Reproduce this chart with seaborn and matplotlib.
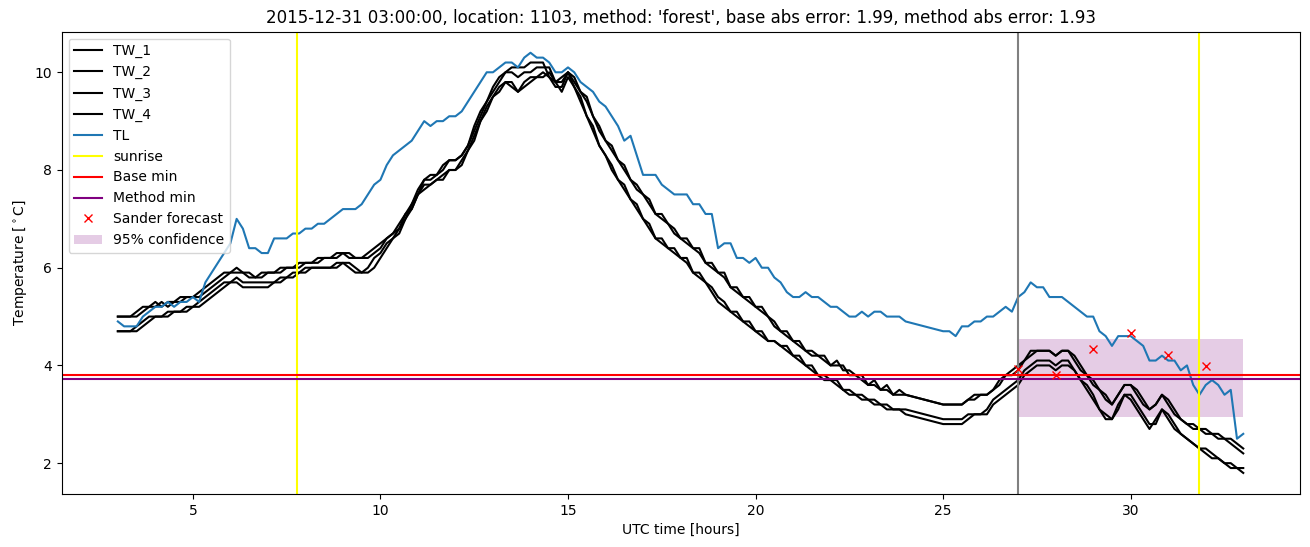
import numpy as np
import pandas as pd
import matplotlib
matplotlib.use("Agg")
import matplotlib.pyplot as plt
import seaborn as sns

# 10-minute samples, 03:00 .. 24:00 and 25:00 .. 33:00 (no data in between)
hours = np.concatenate([np.linspace(3, 24, 127), np.linspace(25, 33, 49)])

tw_1 = [
    5.0, 5.0, 5.0, 5.1, 5.2, 5.2,
    5.3, 5.2, 5.3, 5.3, 5.4, 5.4,
    5.4, 5.5, 5.6, 5.7, 5.8, 5.9,
    5.9, 6.0, 5.9, 5.9, 5.8, 5.9,
    5.9, 5.9, 6.0, 6.0, 6.0, 6.1,
    6.1, 6.1, 6.2, 6.2, 6.2, 6.3,
    6.3, 6.2, 6.2, 6.2, 6.3, 6.4,
    6.5, 6.6, 6.7, 6.9, 7.1, 7.3,
    7.6, 7.8, 7.9, 7.9, 8.1, 8.2,
    8.2, 8.3, 8.5, 8.9, 9.2, 9.4,
    9.7, 9.9, 10.0, 10.1, 10.1, 10.1,
    10.2, 10.2, 10.2, 9.9, 9.8, 9.9,
    10.0, 9.8, 9.6, 9.4, 9.1, 8.8,
    8.6, 8.4, 8.2, 8.0, 7.8, 7.6,
    7.5, 7.3, 7.1, 7.0, 6.9, 6.7,
    6.6, 6.5, 6.4, 6.3, 6.1, 6.0,
    5.9, 5.8, 5.6, 5.5, 5.4, 5.3,
    5.2, 5.1, 5.0, 4.8, 4.7, 4.6,
    4.5, 4.4, 4.3, 4.2, 4.2, 4.1,
    4.0, 4.0, 4.0, 3.8, 3.8, 3.7,
    3.6, 3.6, 3.5, 3.5, 3.4, 3.4,
    3.4,
    3.2, 3.2, 3.2, 3.2, 3.3, 3.4,
    3.4, 3.4, 3.5, 3.7, 3.8, 3.9,
    4.0, 4.1, 4.3, 4.3, 4.3, 4.3,
    4.2, 4.3, 4.3, 4.1, 3.9, 3.8,
    3.6, 3.5, 3.3, 3.2, 3.4, 3.6,
    3.6, 3.4, 3.2, 3.1, 3.2, 3.4,
    3.2, 3.0, 2.9, 2.8, 2.7, 2.7,
    2.6, 2.6, 2.5, 2.5, 2.4, 2.3,
    2.2,
]

tw_2 = [
    5.0, 5.0, 5.0, 5.0, 5.1, 5.2,
    5.2, 5.3, 5.2, 5.3, 5.3, 5.4,
    5.4, 5.4, 5.5, 5.6, 5.7, 5.8,
    5.9, 5.9, 5.9, 5.8, 5.8, 5.8,
    5.9, 5.9, 5.9, 6.0, 6.0, 6.0,
    6.1, 6.1, 6.1, 6.2, 6.2, 6.2,
    6.3, 6.3, 6.2, 6.2, 6.2, 6.3,
    6.4, 6.6, 6.7, 6.8, 7.1, 7.2,
    7.5, 7.8, 7.8, 7.9, 8.0, 8.2,
    8.2, 8.3, 8.5, 8.8, 9.1, 9.4,
    9.6, 9.8, 10.0, 10.0, 9.9, 10.0,
    10.0, 10.1, 10.1, 10.1, 9.8, 9.8,
    10.0, 9.9, 9.6, 9.5, 9.1, 8.9,
    8.6, 8.5, 8.2, 8.1, 7.8, 7.7,
    7.5, 7.4, 7.1, 7.1, 6.9, 6.8,
    6.6, 6.6, 6.4, 6.4, 6.1, 6.1,
    5.9, 5.9, 5.6, 5.6, 5.4, 5.4,
    5.2, 5.2, 5.0, 4.9, 4.7, 4.7,
    4.5, 4.5, 4.3, 4.3, 4.2, 4.2,
    4.0, 4.1, 3.9, 3.9, 3.8, 3.8,
    3.6, 3.7, 3.5, 3.6, 3.4, 3.5,
    3.4,
    3.2, 3.2, 3.2, 3.2, 3.3, 3.3,
    3.4, 3.4, 3.5, 3.6, 3.8, 3.8,
    3.9, 4.1, 4.2, 4.3, 4.3, 4.3,
    4.2, 4.3, 4.3, 4.2, 4.0, 3.8,
    3.7, 3.5, 3.4, 3.2, 3.4, 3.6,
    3.6, 3.5, 3.3, 3.1, 3.2, 3.4,
    3.3, 3.1, 2.9, 2.8, 2.8, 2.7,
    2.7, 2.6, 2.6, 2.5, 2.5, 2.4,
    2.3,
]

tw_3 = [
    4.7, 4.7, 4.7, 4.8, 4.9, 5.0,
    5.0, 5.0, 5.1, 5.1, 5.1, 5.2,
    5.2, 5.3, 5.4, 5.5, 5.6, 5.7,
    5.7, 5.8, 5.7, 5.7, 5.7, 5.7,
    5.7, 5.7, 5.8, 5.8, 5.9, 5.9,
    6.0, 6.0, 6.0, 6.0, 6.0, 6.1,
    6.1, 6.0, 5.9, 5.9, 6.0, 6.2,
    6.3, 6.5, 6.6, 6.8, 7.0, 7.3,
    7.5, 7.7, 7.7, 7.8, 7.9, 8.0,
    8.0, 8.2, 8.4, 8.7, 9.0, 9.3,
    9.5, 9.7, 9.8, 9.8, 9.6, 9.8,
    9.9, 9.9, 10.0, 9.9, 9.7, 9.7,
    10.0, 9.7, 9.4, 9.1, 8.8, 8.5,
    8.3, 8.0, 7.8, 7.6, 7.4, 7.2,
    7.0, 6.8, 6.6, 6.5, 6.4, 6.3,
    6.2, 6.1, 5.9, 5.8, 5.7, 5.5,
    5.3, 5.2, 5.1, 5.0, 4.9, 4.8,
    4.7, 4.6, 4.5, 4.5, 4.4, 4.3,
    4.2, 4.1, 4.0, 3.9, 3.8, 3.7,
    3.7, 3.6, 3.5, 3.4, 3.4, 3.3,
    3.3, 3.2, 3.2, 3.1, 3.1, 3.1,
    3.1,
    2.9, 2.9, 2.9, 2.9, 3.0, 3.0,
    3.0, 3.1, 3.3, 3.4, 3.5, 3.6,
    3.7, 3.9, 4.0, 4.1, 4.1, 4.1,
    4.0, 4.1, 4.1, 3.9, 3.7, 3.5,
    3.3, 3.1, 2.9, 2.9, 3.2, 3.4,
    3.3, 3.1, 2.9, 2.7, 2.9, 3.1,
    2.9, 2.7, 2.6, 2.5, 2.4, 2.3,
    2.2, 2.1, 2.1, 2.0, 1.9, 1.9,
    1.8,
]

tw_4 = [
    4.7, 4.7, 4.7, 4.7, 4.8, 4.9,
    5.0, 5.0, 5.0, 5.1, 5.1, 5.1,
    5.2, 5.2, 5.3, 5.4, 5.5, 5.6,
    5.7, 5.7, 5.6, 5.6, 5.6, 5.6,
    5.6, 5.7, 5.7, 5.8, 5.8, 5.9,
    5.9, 6.0, 6.0, 6.0, 6.0, 6.0,
    6.1, 6.1, 6.0, 5.9, 5.9, 6.0,
    6.2, 6.4, 6.6, 6.7, 7.0, 7.2,
    7.5, 7.6, 7.7, 7.8, 7.8, 8.0,
    8.0, 8.1, 8.4, 8.6, 9.0, 9.2,
    9.5, 9.6, 9.8, 9.7, 9.6, 9.7,
    9.8, 9.9, 9.9, 10.0, 9.8, 9.6,
    9.9, 9.7, 9.5, 9.1, 8.9, 8.5,
    8.3, 8.1, 7.8, 7.7, 7.4, 7.3,
    7.0, 6.9, 6.6, 6.6, 6.4, 6.4,
    6.2, 6.2, 5.9, 5.9, 5.7, 5.6,
    5.4, 5.3, 5.1, 5.1, 4.9, 4.9,
    4.7, 4.7, 4.5, 4.5, 4.4, 4.4,
    4.2, 4.2, 4.0, 4.0, 3.8, 3.8,
    3.7, 3.7, 3.5, 3.5, 3.4, 3.4,
    3.3, 3.3, 3.2, 3.2, 3.1, 3.1,
    3.0,
    2.8, 2.8, 2.8, 2.8, 2.9, 3.0,
    3.0, 3.0, 3.2, 3.3, 3.4, 3.5,
    3.6, 3.8, 3.9, 4.0, 4.0, 4.0,
    3.9, 4.0, 4.0, 3.9, 3.7, 3.6,
    3.4, 3.1, 3.0, 2.9, 3.1, 3.4,
    3.4, 3.2, 3.0, 2.8, 2.8, 3.1,
    3.0, 2.8, 2.6, 2.5, 2.4, 2.3,
    2.3, 2.2, 2.1, 2.0, 2.0, 1.9,
    1.9,
]

tl = [
    4.9, 4.8, 4.8, 4.8, 5.0, 5.1,
    5.2, 5.2, 5.3, 5.2, 5.3, 5.3,
    5.4, 5.3, 5.7, 5.9, 6.1, 6.3,
    6.5, 7.0, 6.8, 6.4, 6.4, 6.3,
    6.3, 6.6, 6.6, 6.6, 6.7, 6.7,
    6.8, 6.8, 6.9, 6.9, 7.0, 7.1,
    7.2, 7.2, 7.2, 7.3, 7.5, 7.7,
    7.8, 8.1, 8.3, 8.4, 8.5, 8.6,
    8.8, 9.0, 8.9, 9.0, 9.0, 9.1,
    9.1, 9.2, 9.4, 9.6, 9.8, 10.0,
    10.0, 10.1, 10.2, 10.2, 10.1, 10.3,
    10.4, 10.3, 10.3, 10.2, 10.0, 10.0,
    10.1, 10.0, 9.8, 9.7, 9.6, 9.4,
    9.3, 9.1, 8.9, 8.6, 8.7, 8.3,
    7.9, 7.9, 7.9, 7.7, 7.6, 7.5,
    7.5, 7.5, 7.3, 7.3, 7.1, 7.1,
    6.4, 6.5, 6.5, 6.2, 6.2, 6.1,
    6.2, 6.0, 6.0, 5.8, 5.7, 5.5,
    5.4, 5.4, 5.5, 5.4, 5.4, 5.3,
    5.2, 5.2, 5.1, 5.0, 5.0, 5.1,
    5.0, 5.1, 5.1, 5.0, 5.0, 5.0,
    4.9,
    4.7, 4.7, 4.6, 4.8, 4.8, 4.9,
    4.9, 5.0, 5.0, 5.1, 5.2, 5.1,
    5.4, 5.5, 5.7, 5.6, 5.6, 5.4,
    5.4, 5.4, 5.3, 5.2, 5.1, 5.0,
    5.0, 4.7, 4.6, 4.4, 4.6, 4.6,
    4.6, 4.5, 4.4, 4.1, 4.1, 4.2,
    4.1, 4.1, 3.9, 4.0, 3.6, 3.4,
    3.6, 3.7, 3.6, 3.4, 3.5, 2.5,
    2.6,
]

sunrise_hours = [7.77, 31.82]
forecast_start = 27.0
base_min = 3.80
method_min = 3.73

sander_hours = [27, 28, 29, 30, 31, 32]
sander_temp = [3.92, 3.80, 4.34, 4.66, 4.21, 3.98]

conf_hours = [27, 33]
conf_low = [2.94, 2.94]
conf_high = [4.54, 4.54]

series = {"TW_1": tw_1, "TW_2": tw_2, "TW_3": tw_3, "TW_4": tw_4}
for name, vals in series.items():
    assert len(vals) == len(hours), name
assert len(tl) == len(hours)

df = pd.DataFrame({"hours": hours, "TL": tl, **series})

fig, ax = plt.subplots(figsize=(13.1, 5.47), dpi=100)
fig.subplots_adjust(left=0.047, right=0.992, top=0.942, bottom=0.097)

for name in series:
    sns.lineplot(data=df, x="hours", y=name, color="black", label=name, ax=ax)
sns.lineplot(data=df, x="hours", y="TL", color="tab:blue", label="TL", ax=ax)

ax.axvline(sunrise_hours[0], color="yellow", label="sunrise")
ax.axvline(sunrise_hours[1], color="yellow")
ax.axvline(forecast_start, color="gray")
ax.axhline(base_min, color="red", label="Base min")
ax.axhline(method_min, color="purple", label="Method min")
ax.plot(sander_hours, sander_temp, "x", color="red", label="Sander forecast")
ax.fill_between(conf_hours, conf_low, conf_high, color="purple", alpha=0.2,
                linewidth=0, label="95% confidence")

ax.set_xlabel("UTC time [hours]")
ax.set_ylabel("Temperature [$^\\circ$C]")
ax.set_title("2015-12-31 03:00:00, location: 1103, method: 'forest', "
             "base abs error: 1.99, method abs error: 1.93")
ax.legend(loc="upper left")

fig.savefig("out.png", dpi=100)
